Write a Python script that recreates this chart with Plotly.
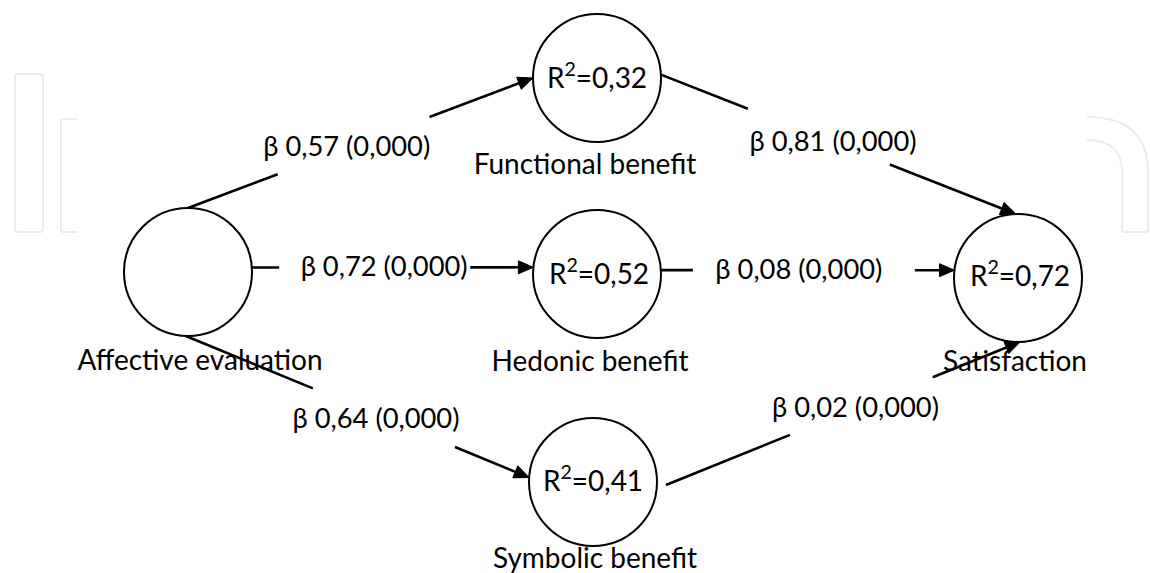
import math
import plotly.graph_objects as go

# ---------------- data ----------------
node_names = ["Affective evaluation", "Functional benefit", "Hedonic benefit",
              "Symbolic benefit", "Satisfaction"]
node_r2 = ["", "0,32", "0,52", "0,41", "0,72"]
node_x = [188, 597, 597, 593, 1018]
node_y = [272, 78, 274, 482, 278]

edge_src = [0, 1, 0, 2, 0, 3]
edge_tgt = [1, 4, 2, 4, 3, 4]
edge_beta = ["0,57", "0,81", "0,72", "0,08", "0,64", "0,02"]
edge_p = ["0,000", "0,000", "0,000", "0,000", "0,000", "0,000"]

# ---------------- styling / geometry params ----------------
R = 64
W, H = 1150, 573
FONT = "Lato"
# angles (screen degrees, 0 = right, 90 = down) where edges leave/enter circles
src_ang = [-90, -3, -4, -3.5, 92, 6]
tgt_ang = [180, -92, 186, 187, 184, 88]
src_pad = [0, 0, 0, 0, 0, 10]
seg1_end = [0.26, 0.245, 0.097, 0.109, 0.37, 0.35]
seg2_start = [0.70, 0.645, 0.776, 0.865, 0.784, 0.753]
lab_t = [0.46, 0.485, 0.47, 0.47, 0.554, 0.535]
lab_dy = [-1, 0, 0, 0, 4.5, 0]
name_dx = [12, -12, -7, 2, -3]
name_dy = [87, 85, 86, 75, 82]
r2_dx = [0, 0, 2, 0, 2]
r2_dy = [0, 2, 2, 1, 0]
LAB_FIX, NAME_FIX, R2_FIX = 2, 4, 1

shapes = []

# faint watermark (decoration)
wm = dict(color="#ececec", width=2)
shapes.append(dict(type="path", layer="below", line=wm,
                   path="M 18,74 L 40,74 Q 43,74 43,77 L 43,229 Q 43,232 40,232 L 18,232 Q 15,232 15,229 L 15,77 Q 15,74 18,74 Z"))
shapes.append(dict(type="path", layer="below", line=wm,
                   path="M 77,119 L 63,119 Q 61,119 61,121 L 61,230 Q 61,232 63,232 L 77,232"))
shapes.append(dict(type="path", layer="below", line=wm,
                   path="M 1087,117 Q 1148,117 1148,172 L 1148,230 Q 1148,232 1146,232 L 1124,232 Q 1122,232 1122,230 L 1122,172 Q 1122,140 1087,140"))

# circles
for cx, cy in zip(node_x, node_y):
    shapes.append(dict(type="circle", xref="x", yref="y", layer="above",
                       x0=cx - R, x1=cx + R, y0=cy - R, y1=cy + R,
                       line=dict(color="black", width=2), fillcolor="rgba(0,0,0,0)"))

lab_x, lab_y, lab_txt = [], [], []
for i in range(len(edge_src)):
    s, t = edge_src[i], edge_tgt[i]
    a1, a2 = math.radians(src_ang[i]), math.radians(tgt_ang[i])
    sx, sy = node_x[s] + R * math.cos(a1), node_y[s] + R * math.sin(a1)
    ex, ey = node_x[t] + R * math.cos(a2), node_y[t] + R * math.sin(a2)
    dx, dy = ex - sx, ey - sy
    L = math.hypot(dx, dy)
    ux, uy = dx / L, dy / L
    sx, sy = sx + ux * src_pad[i], sy + uy * src_pad[i]
    dx, dy = ex - sx, ey - sy
    p1 = (sx + dx * seg1_end[i], sy + dy * seg1_end[i])
    p2 = (sx + dx * seg2_start[i], sy + dy * seg2_start[i])
    ah_len, ah_w = 15, 6.5
    bx, by = ex - ux * ah_len, ey - uy * ah_len
    lw = dict(color="black", width=2.6)
    shapes.append(dict(type="line", layer="above", x0=sx, y0=sy, x1=p1[0], y1=p1[1], line=lw))
    shapes.append(dict(type="line", layer="above", x0=p2[0], y0=p2[1], x1=bx + ux * 2, y1=by + uy * 2, line=lw))
    px, py = -uy, ux
    path = (f"M {ex:.2f},{ey:.2f} L {bx + px * ah_w:.2f},{by + py * ah_w:.2f} "
            f"L {bx - px * ah_w:.2f},{by - py * ah_w:.2f} Z")
    shapes.append(dict(type="path", layer="above", path=path, fillcolor="black",
                       line=dict(color="black", width=1)))
    lab_x.append(sx + dx * lab_t[i])
    lab_y.append(sy + dy * lab_t[i] + lab_dy[i] + LAB_FIX)
    lab_txt.append(f"\u03b2 {edge_beta[i]} ({edge_p[i]})")

r2_idx = [k for k, v in enumerate(node_r2) if v]

fig = go.Figure()
fig.add_trace(go.Scatter(x=lab_x, y=lab_y, text=lab_txt, mode="text",
                         textfont=dict(family=FONT, size=27.3, color="black"),
                         hoverinfo="skip"))
fig.add_trace(go.Scatter(x=[x + d for x, d in zip(node_x, name_dx)],
                         y=[y + d + NAME_FIX for y, d in zip(node_y, name_dy)],
                         text=node_names, mode="text",
                         textfont=dict(family=FONT, size=28, color="black"),
                         hoverinfo="skip"))
fig.add_trace(go.Scatter(x=[node_x[k] + r2_dx[k] for k in r2_idx],
                         y=[node_y[k] + r2_dy[k] + R2_FIX for k in r2_idx],
                         text=[f"R<sup>2</sup>={node_r2[k]}" for k in r2_idx], mode="text",
                         textfont=dict(family=FONT, size=28, color="black"),
                         hoverinfo="skip"))

fig.update_layout(
    width=W, height=H, margin=dict(l=0, r=0, t=0, b=0),
    paper_bgcolor="white", plot_bgcolor="white", showlegend=False,
    xaxis=dict(range=[0, W], visible=False, fixedrange=True),
    yaxis=dict(range=[H, 0], visible=False, fixedrange=True),
    shapes=shapes,
)
fig.write_html("out.html", config={"displayModeBar": False},
               post_script="document.body.style.margin='0';document.body.style.overflow='hidden';")
